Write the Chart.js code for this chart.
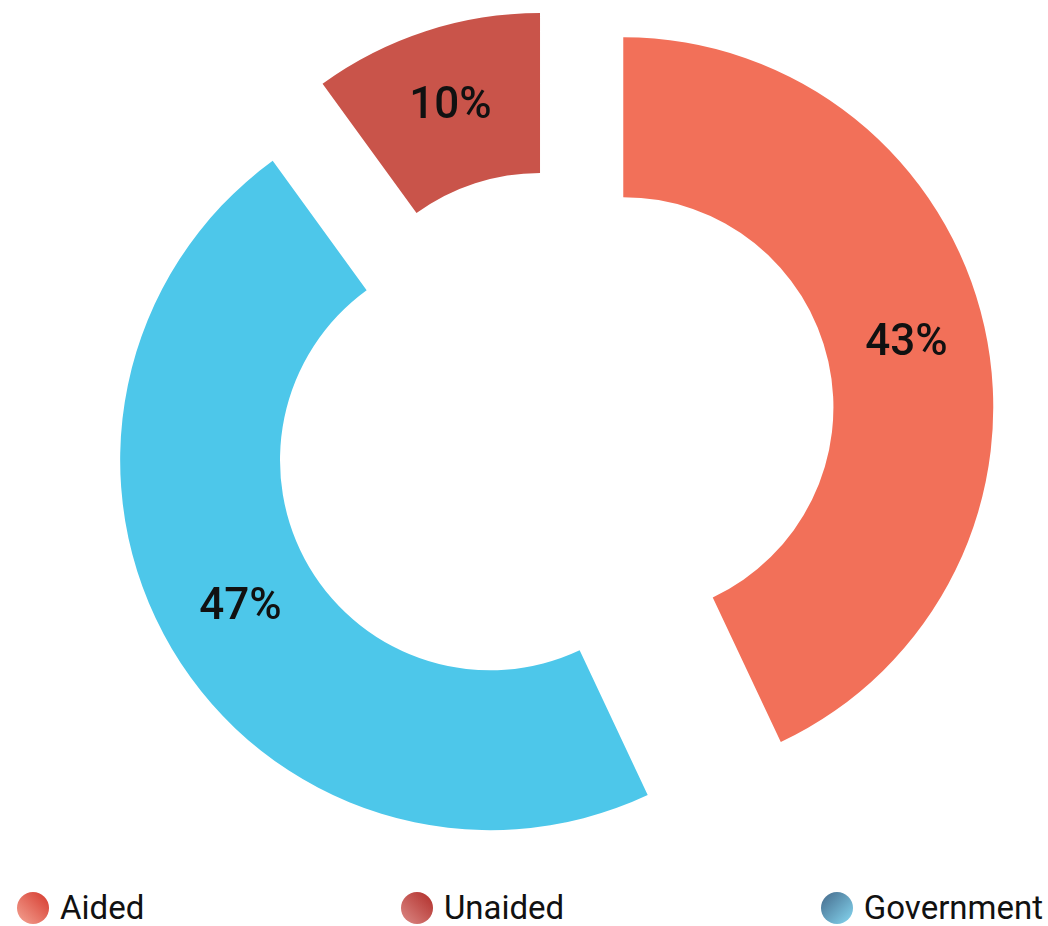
<!DOCTYPE html>
<html>
<head>
<meta charset="utf-8">
<script src="https://cdn.jsdelivr.net/npm/chart.js@4/dist/chart.umd.min.js"></script>
<style>
  html, body { margin: 0; padding: 0; background: #fff; }
  #wrap { position: relative; width: 1048px; height: 926px; overflow: hidden; }
  #chart { position: absolute; left: 0; top: 0; }
  #legend {
    position: absolute; left: 17px; right: 5px; top: 888px;
    display: flex; justify-content: space-between; align-items: center;
    font-family: Roboto, "Liberation Sans", sans-serif; font-size: 33px; color: #111;
  }
  .item { display: flex; align-items: center; }
  .dot { width: 32px; height: 32px; border-radius: 50%; margin-right: 11px; }
</style>
</head>
<body>
<div id="wrap">
  <canvas id="chart" width="1048" height="850"></canvas>
  <div id="legend"></div>
</div>
<script>
// drawing order, clockwise from the top
const categories = ["Aided", "Government", "Unaided"];
const shares = [43, 47, 10];
const sliceColors = ["#F27059", "#4DC7EA", "#C9544A"];
const explode = [72, 73, 42];

// legend order and marker shading
const legendOrder = ["Aided", "Unaided", "Government"];
const legendShade = {
  Aided: "linear-gradient(to bottom left, #D5382C, #F4A494)",
  Unaided: "linear-gradient(to bottom left, #B02C28, #DC8A86)",
  Government: "linear-gradient(to bottom right, #44698A, #86D8F2)"
};

// move each slice out along its middle angle
const explodePlugin = {
  id: "explode",
  beforeDatasetDraw(chart, args) {
    const ds = chart.data.datasets[args.index];
    const ctx = chart.ctx;
    args.meta.data.forEach((arc, i) => {
      const mid = (arc.startAngle + arc.endAngle) / 2;
      const d = ds.explode[i] || 0;
      ctx.save();
      ctx.translate(Math.cos(mid) * d, Math.sin(mid) * d);
      arc.draw(ctx);
      ctx.restore();
    });
    return false;
  },
  afterDatasetsDraw(chart) {
    const ds = chart.data.datasets[0];
    const meta = chart.getDatasetMeta(0);
    const ctx = chart.ctx;
    ctx.save();
    ctx.font = "500 44px Roboto, 'Liberation Sans', sans-serif";
    ctx.fillStyle = "#111";
    ctx.textAlign = "center";
    ctx.textBaseline = "middle";
    meta.data.forEach((arc, i) => {
      const mid = (arc.startAngle + arc.endAngle) / 2;
      const r = (arc.innerRadius + arc.outerRadius) / 2 + (ds.explode[i] || 0);
      ctx.fillText(ds.data[i] + "%", arc.x + Math.cos(mid) * r, arc.y + Math.sin(mid) * r);
    });
    ctx.restore();
  }
};

new Chart(document.getElementById("chart").getContext("2d"), {
  type: "doughnut",
  data: {
    labels: categories,
    datasets: [{
      data: shares,
      backgroundColor: sliceColors,
      borderWidth: 0,
      explode: explode,
      clip: false
    }]
  },
  options: {
    responsive: false,
    animation: false,
    radius: 370,
    cutout: "56.8%",
    layout: { padding: { left: 58, bottom: 4 } },
    plugins: { legend: { display: false }, tooltip: { enabled: false } }
  },
  plugins: [explodePlugin]
});

const legend = document.getElementById("legend");
legendOrder.forEach(name => {
  const item = document.createElement("div");
  item.className = "item";
  const dot = document.createElement("span");
  dot.className = "dot";
  dot.style.background = legendShade[name];
  const txt = document.createElement("span");
  txt.textContent = name;
  item.appendChild(dot);
  item.appendChild(txt);
  legend.appendChild(item);
});
</script>
</body>
</html>
